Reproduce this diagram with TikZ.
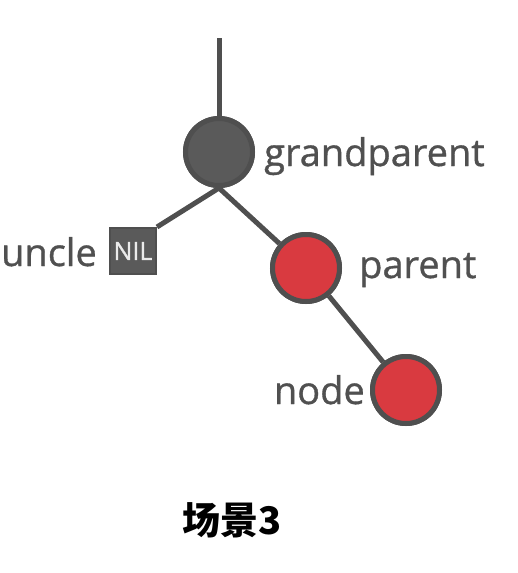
\documentclass[tikz,border=0pt]{standalone}
\usepackage{fontspec}
\setmainfont{Open Sans}
\newfontfamily\lblfont[FakeBold=0.9]{Open Sans}
\newfontfamily\cjk{Noto Sans CJK SC}
\definecolor{edgegray}{HTML}{4F4F4F}
\definecolor{blackfill}{HTML}{5A5A5A}
\definecolor{redfill}{HTML}{D93A40}
\definecolor{txtgray}{HTML}{505050}
\begin{document}
\begin{tikzpicture}[x=1pt,y=-1pt,
  treenode/.style={circle,draw=edgegray,line width=5pt,minimum size=67pt,inner sep=0pt},
  blacknode/.style={treenode,fill=blackfill},
  rednode/.style={treenode,fill=redfill},
  nilbox/.style={rectangle,draw=edgegray,fill=blackfill,line width=2pt,minimum size=46pt,inner sep=0pt,text=white!92!black,font=\lblfont\fontsize{25}{25}\selectfont},
  edge/.style={draw=edgegray,line width=5pt},
  lbl/.style={text=txtgray,font=\lblfont\fontsize{38}{42}\selectfont,inner sep=0pt}]
\useasboundingbox (0,0) rectangle (517,573);
\coordinate (top) at (219,38);
\node[blacknode] (gp) at (219,152) {};
\node[nilbox] (nil) at (133,251) {NIL};
\node[rednode] (p) at (306,268) {};
\node[rednode] (n) at (406,390) {};
\draw[edge] (top) -- (gp.north);
\draw[edge] (gp.south) -- (nil.north east);
\draw[edge] (gp.south) -- (p);
\draw[edge] (p) -- (n);
\node[blacknode] at (gp) {};
\node[rednode] at (p) {};
\node[rednode] at (n) {};
\node[nilbox] at (nil) {NIL};
\node[lbl,anchor=base west] (gpl) at (264,166) {grandparent};
\node[lbl,anchor=base east] (ul) at (97,266) {uncle};
\node[lbl,anchor=base west] (pl) at (359,278) {parent};
\node[lbl,anchor=base east] (nl) at (365,404) {node};
\node[font=\cjk\bfseries\fontsize{38}{38}\selectfont,text=black] (title) at (232,520) {场景3};
\end{tikzpicture}
\end{document}
